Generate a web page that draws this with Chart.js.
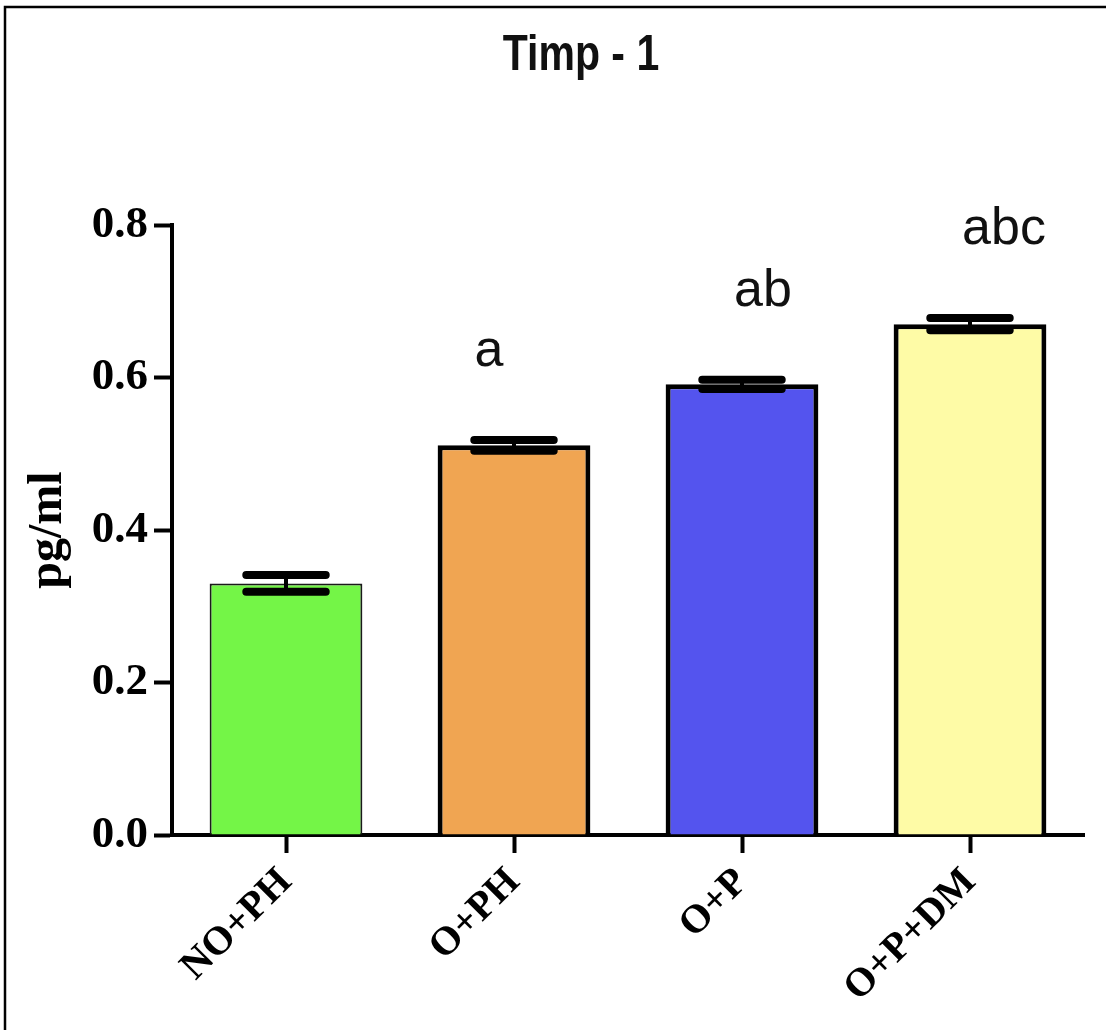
<!DOCTYPE html>
<html>
<head>
<meta charset="utf-8">
<title>Timp - 1</title>
<script src="https://cdn.jsdelivr.net/npm/chart.js@4/dist/chart.umd.min.js"></script>
<style>
  html, body { margin: 0; padding: 0; background: #fff; }
  #wrap { width: 1106px; height: 1030px; position: relative; }
</style>
</head>
<body>
<div id="wrap"><canvas id="timpChart"></canvas></div>
<script>
const CATEGORIES = ["NO+PH", "O+PH", "O+P", "O+P+DM"];
const MEANS = [0.330, 0.511, 0.591, 0.670];
const SEM = [0.011, 0.007, 0.006, 0.008];
const LETTERS = ["", "a", "ab", "abc"];
const Y_TICKS = [0.0, 0.2, 0.4, 0.6, 0.8];

const BAR_COLORS = ["#74f547", "#f0a552", "#5454ee", "#fefba6"];
const BAR_BORDERS = ["#1a1a1a", "#000", "#000", "#000"];
const BAR_BORDER_W = [2, 5, 5, 5];

const SERIF = "'Liberation Serif', 'Times New Roman', serif";
const SANS = "'Liberation Sans', Arial, sans-serif";

// horizontal nudges of the significance letters, as placed in the figure
const LETTER_DX = [0, -25, 21, 34];

const errorBars = {
  id: "errorBars",
  afterDatasetsDraw(chart) {
    const { ctx } = chart;
    const y = chart.scales.y;
    const meta = chart.getDatasetMeta(0);
    ctx.save();
    ctx.strokeStyle = "#000";
    ctx.lineCap = "round";
    meta.data.forEach((bar, i) => {
      const top = y.getPixelForValue(MEANS[i] + SEM[i]);
      const bot = y.getPixelForValue(MEANS[i] - SEM[i]);
      const half = bar.width * 0.26;
      ctx.lineWidth = 4;
      ctx.beginPath();
      ctx.moveTo(bar.x, top);
      ctx.lineTo(bar.x, bot);
      ctx.stroke();
      ctx.lineWidth = 8;
      ctx.beginPath();
      ctx.moveTo(bar.x - half, top);
      ctx.lineTo(bar.x + half, top);
      ctx.moveTo(bar.x - half, bot);
      ctx.lineTo(bar.x + half, bot);
      ctx.stroke();
    });
    ctx.restore();
  },
};

const decorations = {
  id: "decorations",
  afterDraw(chart) {
    const { ctx } = chart;
    const y = chart.scales.y;
    const meta = chart.getDatasetMeta(0);
    ctx.save();

    // significance letters above the bars
    ctx.fillStyle = "#111";
    ctx.font = "52px " + SANS;
    ctx.textAlign = "center";
    ctx.textBaseline = "alphabetic";
    meta.data.forEach((bar, i) => {
      if (!LETTERS[i]) return;
      const top = y.getPixelForValue(MEANS[i] + SEM[i]);
      ctx.fillText(LETTERS[i], bar.x + LETTER_DX[i], top - 74);
    });

    // title, slightly condensed like the original
    ctx.save();
    ctx.translate(581, 70);
    ctx.scale(0.82, 1);
    ctx.font = "bold 50px " + SANS;
    ctx.fillText("Timp - 1", 0, 0);
    ctx.restore();

    // frame (top + left edges of the figure box)
    ctx.strokeStyle = "#000";
    ctx.lineWidth = 2.5;
    ctx.beginPath();
    ctx.moveTo(5, chart.height);
    ctx.lineTo(5, 7);
    ctx.lineTo(chart.width, 7);
    ctx.stroke();
    ctx.restore();
  },
};

new Chart(document.getElementById("timpChart"), {
  type: "bar",
  data: {
    labels: CATEGORIES,
    datasets: [
      {
        data: MEANS,
        backgroundColor: BAR_COLORS,
        borderColor: BAR_BORDERS,
        borderWidth: BAR_BORDER_W,
        borderSkipped: "bottom",
        categoryPercentage: 1,
        barPercentage: 0.67,
      },
    ],
  },
  options: {
    responsive: true,
    maintainAspectRatio: false,
    animation: false,
    layout: { padding: { top: 225, right: 22, bottom: 0, left: 0 } },
    plugins: { legend: { display: false }, tooltip: { enabled: false } },
    scales: {
      x: {
        offset: true,
        afterFit: (s) => { s.height = 195; },
        border: { display: true, color: "#000", width: 4 },
        grid: {
          offset: false,
          drawOnChartArea: false,
          drawTicks: true,
          tickLength: 18,
          tickWidth: 4,
          tickColor: "#000",
        },
        ticks: {
          color: "#000",
          minRotation: 45,
          maxRotation: 45,
          padding: 6,
          font: { family: SERIF, size: 40, weight: "bold" },
        },
      },
      y: {
        min: 0,
        max: 0.8,
        afterFit: (s) => { s.width = 172; },
        afterBuildTicks: (s) => { s.ticks = Y_TICKS.map((v) => ({ value: v })); },
        border: { display: true, color: "#000", width: 4 },
        grid: {
          drawOnChartArea: false,
          drawTicks: true,
          tickLength: 18,
          tickWidth: 4,
          tickColor: "#000",
        },
        ticks: {
          color: "#000",
          padding: 6,
          font: { family: SERIF, size: 45, weight: "bold" },
          callback: (v) => Number(v).toFixed(1),
        },
        title: {
          display: true,
          text: "pg/ml",
          color: "#000",
          padding: { top: 20, bottom: 0 },
          font: { family: SERIF, size: 48, weight: "bold" },
        },
      },
    },
  },
  plugins: [errorBars, decorations],
});
</script>
</body>
</html>
